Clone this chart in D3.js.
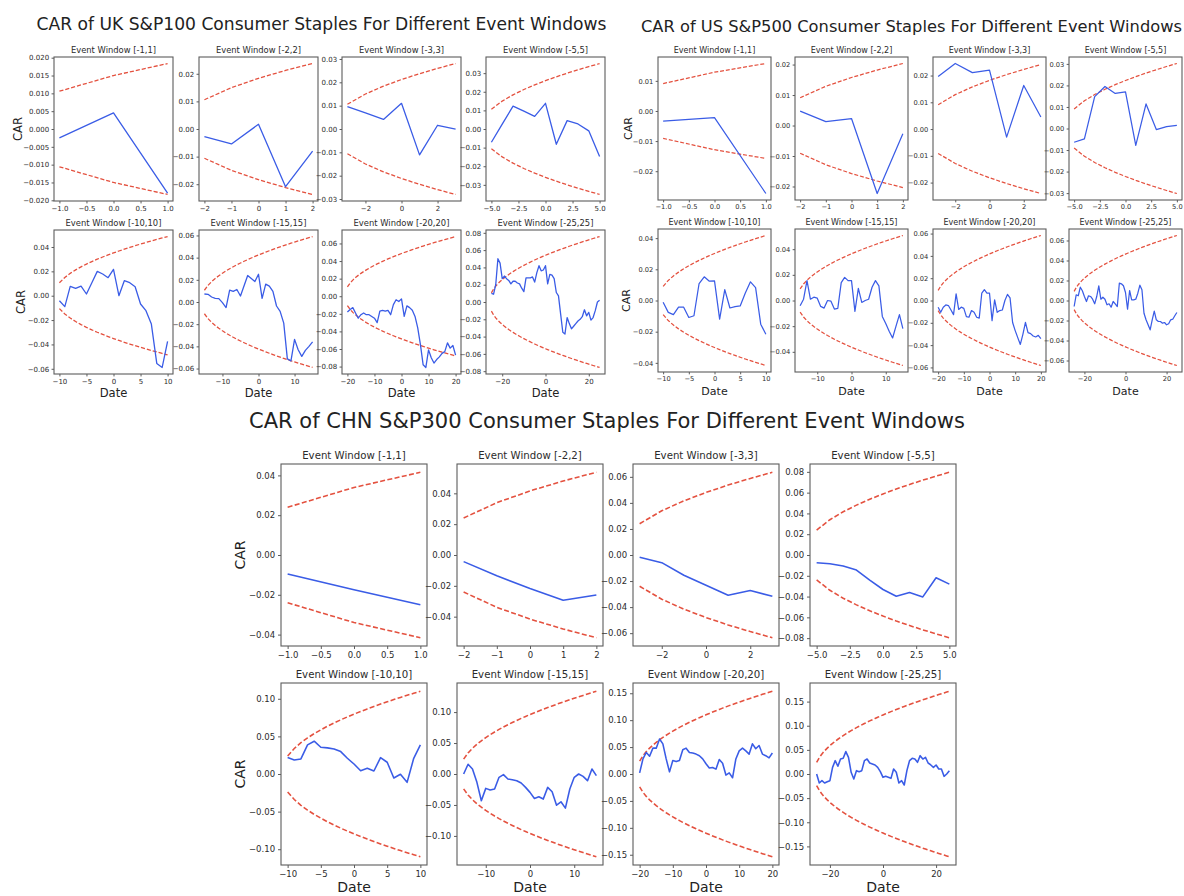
<!DOCTYPE html>
<html><head><meta charset="utf-8">
<script src="https://cdn.jsdelivr.net/npm/d3@7"></script>
<style>body{margin:0;background:#fff}svg{display:block;font-family:"DejaVu Sans",sans-serif}</style>
</head><body>
<svg id="chart" width="1184" height="896"></svg>
<script>
// ---------- data ----------
const windows = [1, 2, 3, 5, 10, 15, 20, 25];
const windowTitles = windows.map(k => `Event Window [-${k},${k}]`);
const xTickStep = [0.5, 1, 2, 2.5, 5, 10, 10, 20];

const ukYStep = [0.005, 0.01, 0.01, 0.01, 0.02, 0.02, 0.02, 0.02];
const usYStep = [0.01, 0.01, 0.01, 0.01, 0.02, 0.02, 0.02, 0.02];
const chnYStep = [0.02, 0.02, 0.02, 0.02, 0.05, 0.05, 0.05, 0.05];

// critical band half-width on day one of each window (1.96·sigma)
const ukBand = 0.0106;
const usBand = 0.0091;
const chnBand = 0.024;

const ukCar1 = [-0.0025, 0.0045, -0.018];
const ukCar2 = [-0.0028, -0.0054, 0.0017, -0.0209, -0.008];
const ukCar3 = [0.0096, 0.0069, 0.0041, 0.011, -0.0111, 0.0016, -0.0001];
const ukCar5 = [-0.0071, 0.0026, 0.0123, 0.0096, 0.0068, 0.0138, -0.0082, 0.0045, 0.0027, -0.001, -0.0148];
const ukCar10 = [-0.0041, -0.009, 0.0077, 0.006, 0.0079, 0.0014, 0.0107, 0.02, 0.0178, 0.0148, 0.0216, 0.0, 0.0123, 0.0107, 0.0074, -0.0068, -0.0123, -0.0233, -0.0556, -0.0589, -0.0375];
const ukCar15 = [0.0072, 0.0069, 0.0045, 0.0033, 0.003, -0.0006, -0.005, 0.0107, 0.0096, 0.0113, 0.0054, 0.0146, 0.0239, 0.0212, 0.0185, 0.025, 0.0033, 0.0161, 0.0143, 0.0096, -0.0036, -0.0084, -0.019, -0.0513, -0.0531, -0.0337, -0.043, -0.049, -0.0436, -0.04, -0.036];
const ukCar20 = [-0.018, -0.015, -0.013, -0.019, -0.025, -0.021, -0.019, -0.021, -0.021, -0.023, -0.025, -0.030, -0.017, -0.016, -0.017, -0.016, -0.021, -0.0095, -0.004, -0.006, -0.003, -0.023, -0.011, -0.013, -0.016, -0.023, -0.036, -0.055, -0.078, -0.081, -0.061, -0.07, -0.076, -0.072, -0.069, -0.065, -0.063, -0.053, -0.059, -0.056, -0.067];
const ukCar25 = [0.010, 0.009, 0.020, 0.050, 0.045, 0.027, 0.030, 0.027, 0.025, 0.021, 0.024, 0.024, 0.022, 0.021, 0.016, 0.012, 0.028, 0.028, 0.028, 0.029, 0.023, 0.034, 0.042, 0.036, 0.037, 0.042, 0.021, 0.032, 0.031, 0.027, 0.011, 0.007, -0.014, -0.035, -0.037, -0.018, -0.025, -0.031, -0.028, -0.025, -0.022, -0.020, -0.017, -0.009, -0.016, -0.012, -0.021, -0.018, -0.010, 0.000, 0.002];

const usCar1 = [-0.0034, -0.0022, -0.0274];
const usCar2 = [0.0047, 0.0013, 0.0023, -0.0223, -0.0027];
const usCar3 = [0.0196, 0.0245, 0.0211, 0.022, -0.003, 0.0163, 0.0045];
const usCar5 = [-0.0064, -0.0048, 0.0148, 0.0195, 0.0163, 0.017, -0.0078, 0.0114, -0.0005, 0.0009, 0.0014];
const usCar10 = [-0.0011, -0.0076, -0.0091, -0.0043, -0.0043, -0.0109, -0.0098, 0.0109, 0.0152, 0.0124, 0.0126, -0.012, 0.007, -0.0048, -0.0039, -0.0035, 0.0048, 0.012, 0.0083, -0.0152, -0.0217];
const usCar15 = [-0.0041, 0.001, 0.0155, 0.001, 0.0026, 0.0018, -0.0046, -0.0059, 0.0, -0.0005, -0.0067, -0.0062, 0.0139, 0.018, 0.0155, 0.0155, -0.0085, 0.0095, -0.0015, 0.0, 0.001, 0.0103, 0.0155, 0.0114, -0.0124, -0.018, -0.024, -0.0292, -0.020, -0.011, -0.022];
const usCar20 = [-0.006, -0.0106, -0.006, -0.004, -0.0045, -0.0085, -0.0127, 0.006, -0.008, -0.006, -0.007, -0.0145, -0.015, -0.009, -0.0106, -0.015, -0.0158, 0.0067, 0.0097, 0.0067, 0.0067, -0.018, 0.0006, -0.0106, -0.009, -0.0085, 0.0, 0.0055, 0.0024, -0.0197, -0.027, -0.0333, -0.0394, -0.0303, -0.0197, -0.0288, -0.0297, -0.0318, -0.0327, -0.0312, -0.0342];
const usCar25 = [-0.006, 0.0057, 0.0047, 0.0133, 0.0097, 0.004, -0.001, 0.0047, 0.004, 0.0013, -0.0033, 0.004, 0.0147, 0.0013, 0.0033, 0.0013, -0.0043, -0.0033, -0.0067, -0.001, -0.0033, -0.006, 0.0173, 0.0167, 0.0147, 0.008, -0.0087, 0.01, 0.0007, 0.0007, 0.0013, 0.0073, 0.0153, 0.0107, -0.0127, -0.0193, -0.0243, -0.0293, -0.0193, -0.0107, -0.0193, -0.021, -0.021, -0.0227, -0.022, -0.0243, -0.0233, -0.0193, -0.0187, -0.0153, -0.012];

const chnCar1 = [-0.0095, -0.0175, -0.025];
const chnCar2 = [-0.0043, -0.0135, -0.0217, -0.0293, -0.026];
const chnCar3 = [-0.0018, -0.0059, -0.0155, -0.0232, -0.0309, -0.0273, -0.0317];
const chnCar5 = [-0.0074, -0.0084, -0.0106, -0.0145, -0.0242, -0.0332, -0.0397, -0.0361, -0.0403, -0.0219, -0.028];
const chnCar10 = [0.0218, 0.0187, 0.02, 0.0387, 0.0436, 0.0356, 0.0347, 0.0333, 0.0298, 0.0209, 0.0133, 0.0044, 0.0076, 0.004, 0.0218, 0.0156, -0.0053, -0.0004, -0.0111, 0.0209, 0.0387];
const chnCar15 = [0.0, 0.0157, 0.0081, -0.0135, -0.0432, -0.0232, -0.0259, -0.0243, -0.0054, -0.0011, -0.0081, -0.0092, -0.0108, -0.0146, -0.0216, -0.0297, -0.0395, -0.0368, -0.0405, -0.0216, -0.0286, -0.0503, -0.0449, -0.0551, -0.0243, -0.0054, 0.0, -0.0038, -0.0108, 0.0081, -0.0027];
const chnCar20 = [0.002, 0.028, 0.040, 0.033, 0.048, 0.048, 0.065, 0.056, 0.028, 0.004, 0.025, 0.023, 0.025, 0.045, 0.048, 0.040, 0.039, 0.037, 0.034, 0.028, 0.019, 0.011, 0.012, 0.009, 0.027, 0.020, -0.002, 0.002, -0.007, 0.028, 0.043, 0.048, 0.043, 0.037, 0.056, 0.047, 0.053, 0.037, 0.034, 0.030, 0.039];
const chnCar25 = [0.0, -0.0187, -0.0138, -0.0187, -0.016, -0.0138, 0.0138, 0.0277, 0.016, 0.031, 0.0325, 0.0464, 0.0346, 0.0035, -0.0104, 0.0069, 0.0048, 0.0069, 0.0277, 0.031, 0.0228, 0.0208, 0.0187, 0.0138, 0.0048, -0.0069, -0.0048, -0.0069, -0.009, 0.0104, 0.0035, -0.0187, -0.0138, -0.0228, 0.0069, 0.0277, 0.0325, 0.031, 0.0242, 0.038, 0.031, 0.0346, 0.0228, 0.0187, 0.0138, 0.0187, 0.0104, 0.0104, -0.0048, 0.0, 0.0069];

const groupTitles = [
  "CAR of UK S&P100 Consumer Staples For Different Event Windows",
  "CAR of US S&P500 Consumer Staples For Different Event Windows",
  "CAR of CHN S&P300 Consumer Staples For Different Event Windows"
];

// ---------- layout (kept separate from data) ----------
const groups = [
  { title: groupTitles[0], series: [ukCar1, ukCar2, ukCar3, ukCar5, ukCar10, ukCar15, ukCar20, ukCar25], yStep: ukYStep, band: ukBand,
    s: 0.7, lefts: [54, 199, 342, 486], w: 119, tops: [57, 230], h: 144, ylabX: [22, 25], dateY: 397, tx: 321.5, ty: 29.5, tw: 570 },
  { title: groupTitles[1], series: [usCar1, usCar2, usCar3, usCar5, usCar10, usCar15, usCar20, usCar25], yStep: usYStep, band: usBand,
    s: 0.67, lefts: [658, 795, 933, 1069], w: 113, tops: [57, 229], h: 143, ylabX: [632, 630], dateY: 395, tx: 911.5, ty: 31.5, tw: 541 },
  { title: groupTitles[2], series: [chnCar1, chnCar2, chnCar3, chnCar5, chnCar10, chnCar15, chnCar20, chnCar25], yStep: chnYStep, band: chnBand,
    s: 0.85, lefts: [281, 457, 633, 810], w: 146, tops: [464, 683], h: 182, ylabX: [245, 245], dateY: 892, tx: 607, ty: 427.5, tw: 716 }
];

const BLUE = "#3a5ce6";
const RED = "#e4513f";
const AXIS = "#5c5c5c";
const TEXT = "#2b2b2b";

const svg = d3.select("#chart");

function ticksFor(lo, hi, step) {
  const a = Math.ceil(lo / step - 1e-9), b = Math.floor(hi / step + 1e-9);
  return d3.range(a, b + 1).map(i => +(i * step).toFixed(6));
}
function decimalsFor(step) {
  const str = String(step);
  return str.includes(".") ? str.split(".")[1].length : 0;
}

groups.forEach(G => {
  const g = svg.append("g");
  const s = G.s;

  g.append("text")
    .attr("x", G.tx).attr("y", G.ty)
    .attr("text-anchor", "middle")
    .attr("font-size", 24 * s)
    .attr("fill", "#222")
    .attr("textLength", G.tw).attr("lengthAdjust", "spacingAndGlyphs")
    .text(G.title);

  windows.forEach((k, i) => {
    const row = i < 4 ? 0 : 1, col = i % 4;
    const x0 = G.lefts[col], y0 = G.tops[row], w = G.w, h = G.h;
    const days = d3.range(-k, k + 1);
    const car = G.series[i];
    const upper = days.map(d => G.band * Math.sqrt(d + k + 1));
    const lower = upper.map(v => -v);

    const yMin = Math.min(d3.min(car), d3.min(lower));
    const yMax = Math.max(d3.max(car), d3.max(upper));
    const pad = 0.05 * (yMax - yMin);
    const x = d3.scaleLinear().domain([-k - 0.1 * k, k + 0.1 * k]).range([x0, x0 + w]);
    const y = d3.scaleLinear().domain([yMin - pad, yMax + pad]).range([y0 + h, y0]);

    const p = g.append("g");
    const line = d3.line().x((d, j) => x(days[j])).y(d => y(d));

    const lw = 1.85 * s;
    [upper, lower].forEach(b => {
      p.append("path").datum(b).attr("d", line)
        .attr("fill", "none").attr("stroke", RED).attr("stroke-width", lw)
        .attr("stroke-dasharray", `${3.2 * lw},${1.5 * lw}`);
    });
    p.append("path").datum(car).attr("d", line)
      .attr("fill", "none").attr("stroke", BLUE).attr("stroke-width", lw)
      .attr("stroke-linejoin", "round");

    // axes
    const yt = ticksFor(y.domain()[0], y.domain()[1], G.yStep[i]);
    const xt = ticksFor(x.domain()[0], x.domain()[1], xTickStep[i]);
    const yf = d3.format(`.${decimalsFor(G.yStep[i])}f`);
    const xf = d3.format(`.${decimalsFor(xTickStep[i])}f`);

    const ya = p.append("g").attr("transform", `translate(${x0},0)`)
      .call(d3.axisLeft(y).tickValues(yt).tickFormat(yf).tickSize(3.5 * s).tickPadding(3.5 * s).tickSizeOuter(0));
    const xa = p.append("g").attr("transform", `translate(0,${y0 + h})`)
      .call(d3.axisBottom(x).tickValues(xt).tickFormat(xf).tickSize(3.5 * s).tickPadding(3.5 * s).tickSizeOuter(0));
    [ya, xa].forEach(a => {
      a.select(".domain").remove();
      a.selectAll(".tick line").attr("stroke", AXIS).attr("stroke-width", 1);
      a.selectAll(".tick text").attr("fill", TEXT).attr("font-size", 10 * s)
        .attr("font-family", "DejaVu Sans, sans-serif");
    });

    p.append("rect").attr("x", x0).attr("y", y0).attr("width", w).attr("height", h)
      .attr("fill", "none").attr("stroke", AXIS).attr("stroke-width", 1.1);

    p.append("text").attr("x", x0 + w / 2).attr("y", y0 - 6 * s)
      .attr("text-anchor", "middle").attr("font-size", 12 * s).attr("fill", TEXT)
      .text(windowTitles[i]);

    if (row === 1) {
      p.append("text").attr("x", x0 + w / 2).attr("y", G.dateY)
        .attr("text-anchor", "middle").attr("font-size", 16.5 * s).attr("fill", "#222")
        .text("Date");
    }
    if (col === 0) {
      p.append("text")
        .attr("transform", `translate(${G.ylabX[row]},${y0 + h / 2}) rotate(-90)`)
        .attr("text-anchor", "middle").attr("font-size", 16.5 * s).attr("fill", "#222")
        .text("CAR");
    }
  });
});
</script>
</body></html>
